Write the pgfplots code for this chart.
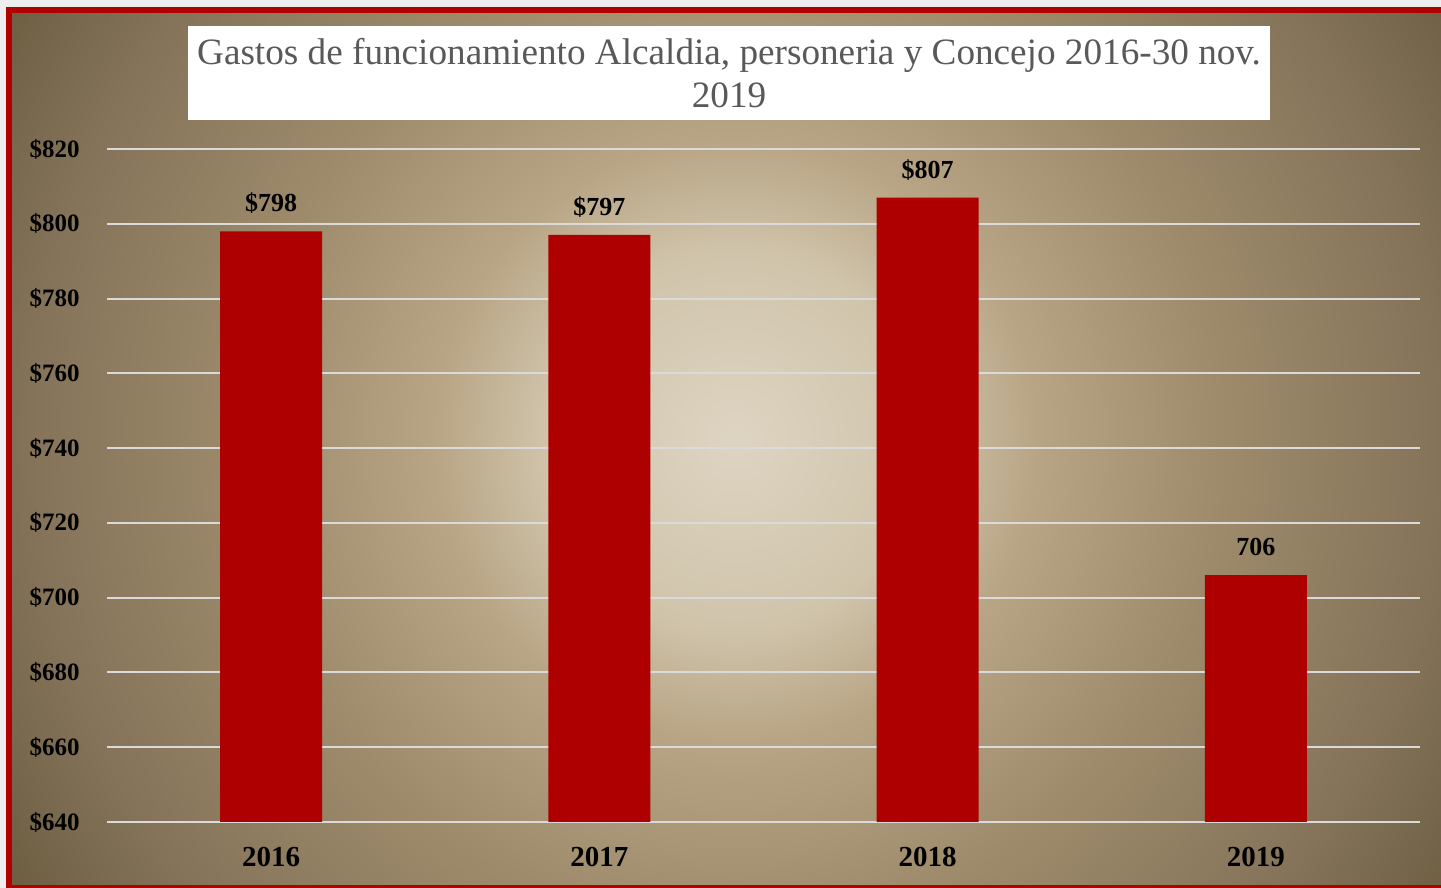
\documentclass[border=0pt]{standalone}
\usepackage{pgfplots}
\pgfplotsset{compat=1.18}
\usepackage{fontspec}
\setmainfont{Liberation Serif}
\definecolor{barred}{HTML}{AE0000}
\definecolor{framered}{HTML}{B00000}
\definecolor{pagegray}{HTML}{EEEEEE}
\definecolor{gridc}{HTML}{DADADA}
\definecolor{titlec}{HTML}{595959}
\definecolor{c0}{HTML}{DED4C2}
\definecolor{c1}{HTML}{D0C4AB}
\definecolor{c2}{HTML}{B8A585}
\definecolor{c3}{HTML}{9F8C6C}
\definecolor{c4}{HTML}{85745A}
\definecolor{c5}{HTML}{6D5E42}
\pgfdeclareradialshading{bgrad}{\pgfpoint{0bp}{0bp}}{color(0bp)=(c0); color(5.5bp)=(c1); color(8.8bp)=(c2); color(14bp)=(c3); color(20.5bp)=(c4); color(25bp)=(c5); color(50bp)=(c5)}
\begin{document}
\begin{tikzpicture}
\useasboundingbox (0,0) rectangle (720.5pt,444pt);
\clip (0,0) rectangle (720.5pt,444pt);
\fill[pagegray] (0,0) rectangle (720.5pt,444pt);
\begin{scope}
\clip (6pt,1.5pt) rectangle (725pt,437.5pt);
\shade[shading=bgrad] (367.5pt,224pt) circle (425pt);
\end{scope}
\draw[framered, line width=3pt] (4.5pt,0pt) rectangle (730pt,439pt);
\fill[white] (94pt,384pt) rectangle (635pt,431pt);
\node[align=center, text=titlec, font=\fontsize{18.6}{21.5}\selectfont, inner sep=0pt] at (364.5pt,407.5pt) {Gastos de funcionamiento Alcaldia, personeria y Concejo 2016-30 nov.\\2019};
\begin{axis}[
  at={(53.5pt,33pt)}, anchor=south west,
  scale only axis, width=656.5pt, height=336.5pt,
  xmin=-0.5, xmax=3.5, ymin=640, ymax=820,
  xtick={0,1,2,3}, xticklabels={2016,2017,2018,2019},
  ytick={640,660,680,700,720,740,760,780,800,820},
  yticklabels={\$640,\$660,\$680,\$700,\$720,\$740,\$760,\$780,\$800,\$820},
  ymajorgrids, grid style={line width=1pt, color=gridc},
  axis line style={draw=none}, major tick length=0pt,
  yticklabel style={font=\bfseries\fontsize{12.5}{14}\selectfont, inner sep=0pt, xshift=-13.5pt},
  xticklabel style={font=\bfseries\fontsize{14.5}{16}\selectfont, inner sep=0pt, yshift=-12.5pt},
  nodes near coords,
  point meta=explicit symbolic,
  every node near coord/.append style={font=\bfseries\fontsize{13}{14}\selectfont, inner sep=0pt, text depth=0pt, anchor=south, yshift=9.5pt, text=black},
]
\addplot[ybar, bar width=51pt, fill=barred, draw=none] coordinates {(0,798)[\$798] (1,797)[\$797] (2,807)[\$807] (3,706)[706]};
\end{axis}
\end{tikzpicture}
\end{document}
